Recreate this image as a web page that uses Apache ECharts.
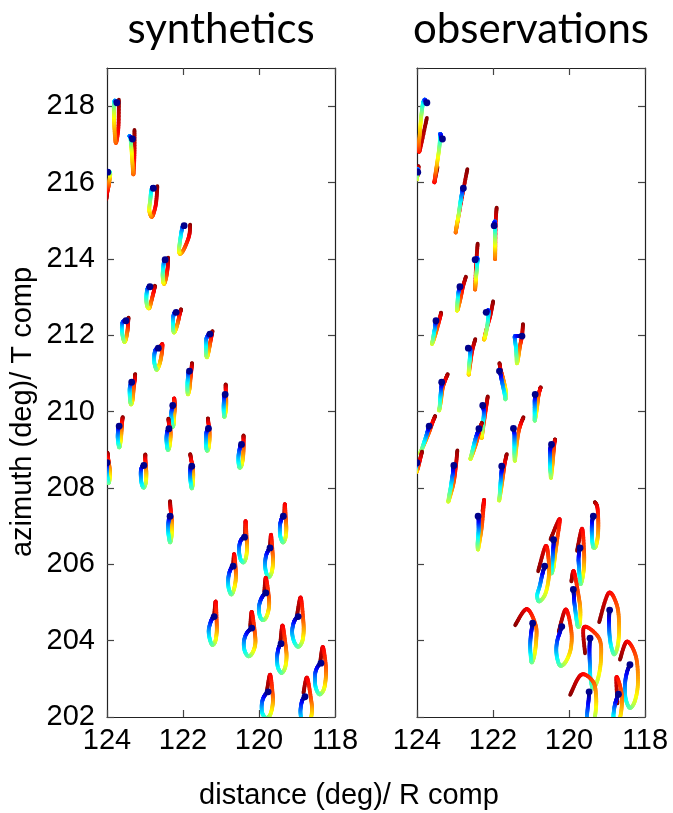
<!DOCTYPE html>
<html><head><meta charset="utf-8">
<script src="https://cdn.jsdelivr.net/npm/echarts@6/dist/echarts.min.js"></script>
<style>html,body{margin:0;padding:0;background:#fff}#c{width:673px;height:813px}</style>
</head><body><div id="c"></div>
<script>
// ---------------- data ----------------
const panelTitles = ['synthetics', 'observations'];
const distTicks = [118, 120, 122, 124];
const azTicks = [202, 204, 206, 208, 210, 212, 214, 216, 218];
const azMax = 219;
const xName = 'distance (deg)/ R comp';
const yName = 'azimuth (deg)/ T comp';

// station positions (distance deg, azimuth deg)
const stationDist = [123.74,123.33,123.98,122.78,121.97,122.47,122.87,123.50,122.18,121.29,
  122.65,121.83,123.35,122.27,120.89,123.68,122.37,121.33,120.46,124.00,
  123.03,121.77,122.34,120.38,120.68,121.18,119.36,119.71,119.82,118.97,
  120.19,119.42,118.37,119.76,118.79];
const stationAz = [218.09,217.14,216.27,215.85,214.87,213.98,213.27,212.38,212.60,212.03,
  211.66,211.06,210.77,210.16,210.45,209.62,209.55,209.56,209.14,208.66,
  208.59,208.57,207.26,206.71,205.95,204.63,207.26,206.43,205.25,204.63,
  204.33,203.92,203.41,202.66,202.53];

// particle motion, 11 samples evenly spaced in time: [R, T, R, T, ...] (amplitude units)
const synthMotion = [
 [0,0,-0.5,0.5,-1,1,-2,2,-2.5,1,-3,-3,-3,-11,-2.5,-25,-1,-40,1.5,-25,2,3],
 [0,0,-1,1,-2,2,-3,3,-2,1,-1.5,-4,-1,-10,0,-24,1,-35,2,-14,2,9],
 [0,0,0.3,0.2,0.6,0.4,1,0.5,1.5,0.5,2,0,2.5,-2,2,-6,1,-13,-0.5,-20,-1.5,-27],
 [0,0,-0.5,0.5,-1,1,-1.5,0,-2.5,-5,-3,-11,-4,-19,-3.5,-25,-1,-28,2.5,-16,4,2],
 [0,0,-0.5,0,-1.5,-1,-2.5,-5,-3.5,-11,-4.5,-18,-5,-24,-4,-28,0,-23,5,-10,6,1],
 [0,0,-0.5,0,-1,-1,-1.5,-4,-2,-9,-2.5,-15,-2,-21,-1,-24,1,-18,2.5,-8,3,2],
 [0,0,-1,0,-2,-1,-3,-4,-3.5,-9,-3.5,-15,-2.5,-20,-0.5,-21,1.5,-14,4,-4,5,1],
 [0,0,-1,0,-3,-1,-4,-4,-4,-10,-3,-17,-1.5,-21,0,-18,1.5,-10,2,-3,2.5,3],
 [0,0,-1,0,-2,-1,-3,-5,-3,-11,-3,-17,-2,-20,0,-16,2,-9,3.5,-2,5,3],
 [0,0,-1,0,-2.5,-2,-4,-6,-4,-12,-4,-19,-3,-23,-1.5,-18,0,-10,1.5,-2,2.5,3],
 [0,0,-1,0,-3,-2,-4,-7,-4,-14,-2.5,-20,-1,-21,1.5,-15,3.5,-5,4,4,1,-1],
 [0,0,-0.5,-0.5,-1,-2,-1.5,-6,-2,-12,-2,-19,-1.5,-23,0,-18,1,-8,2,2,2.5,8],
 [0,0,-0.5,0,-1,-2,-2,-6,-2,-12,-1.5,-19,-0.5,-22,1,-17,2,-6,3,2,3.5,8],
 [0,0,-0.5,-1,-1,-4,-1.5,-9,-1,-15,0,-21,1,-18,1.5,-10,2,-2,1.5,7,2,0],
 [0,0,-0.5,-1,-1,-4,-1.5,-10,-1.5,-16,-1,-22,0,-20,1,-12,1,-3,0.5,5,0.5,10],
 [0,0,-0.5,-1,-1,-4,-1.5,-10,-1,-16,0,-21,1,-18,2,-10,2.5,-2,3,4,3.5,9],
 [0,0,-1,-1,-2,-4,-2.5,-10,-2,-17,-1,-21,0.5,-18,1.5,-10,1.5,-2,0,5,-0.5,10],
 [0,0,-1,-1,-2,-4,-2.5,-10,-2.5,-17,-1.5,-22,0,-20,1,-12,1,-3,0,5,-0.5,10],
 [0,0,-1,-1,-2,-5,-3,-11,-3,-18,-2,-23,0,-21,1.5,-13,2,-4,2,4,2,9],
 [0,0,0,-1,0,-4,0,-9,0.5,-15,1.5,-20,2.5,-17,3,-9,2,-1,1,5,0.5,10],
 [0,0,-1.5,-1,-3,-5,-3,-12,-2,-19,0,-22,2,-17,2.5,-8,2,-1,1.5,6,1.5,11],
 [0,0,-1,-1,-1.5,-5,-1.5,-11,-1,-17,0,-22,1,-18,1.5,-9,1,-1,-0.5,6,-1.5,12],
 [0,0,-1,-1,-1.5,-5,-2,-11,-1.5,-19,0,-26,1.5,-20,2,-10,1.5,-2,0.5,7,0,15],
 [0,0,-3,-2,-5,-7,-5.5,-14,-4,-22,-1,-25,1.5,-20,2.5,-10,2,0,1,16,0.5,0],
 [0,0,-2,-2,-4,-7,-5,-14,-4.5,-22,-2,-28,0.5,-24,2.5,-14,2.5,-3,1,12,0,1],
 [0,0,-2,-2,-4,-7,-5.5,-14,-4.5,-22,-2,-28,1,-25,2.5,-16,2.5,-5,1.5,15,0,1],
 [0,0,-1.5,-2,-3,-7,-3.5,-13,-3,-20,-0.5,-26,2,-22,3,-13,2.5,-3,1.5,12,1,0],
 [0,0,-2,-3,-4,-8,-5,-16,-4,-24,-1.5,-29,1.5,-25,3,-15,2.5,-4,1,13,0,1],
 [0,0,-3,-3,-5.5,-8,-7,-15,-6,-23,-3,-27,0.5,-24,3,-15,3,-4,0,15,-1.5,1],
 [0,0,-3,-3,-5,-8,-6,-16,-4,-25,0,-30,4,-25,5.5,-15,5,-2,2.5,19,-1,2],
 [0,0,-3.5,-3,-6.5,-8,-8,-15,-7,-23,-3.5,-28,0.5,-25,3.5,-16,3,-4,0,16,-1.5,2],
 [0,0,-2,-3,-3.5,-9,-4,-16,-3,-24,0.5,-29,4,-24,5.5,-13,4.5,-1,1.5,18,-0.5,3],
 [0,0,-3,-3,-5.5,-9,-6,-17,-5,-25,-1.5,-31,2.5,-27,4.5,-18,5,-4,2,16,-0.5,3],
 [0,0,-3,-3,-5.5,-8,-6.5,-15,-5.5,-22,-2,-26,2,-23,4.5,-13,4.5,-2,2,17,-1,2],
 [0,0,-2.5,-3,-4,-9,-4.5,-16,-3,-24,1,-27,5,-24,7,-14,6,-2,2,19,-1.5,4]
];
const obsMotion = [
 [0,0,-1,1,-2,3,-3,2,-4,-1,-5,-8,-6,-17,-7,-30,-8,-43,-7,-47,0,-15],
 [0,0,-1,2,-2,5,-2.5,4,-2.5,0,-3,-7,-4,-15,-5.5,-25,-7,-35,-8,-43,-5,-28],
 [0,0,0,1,0,2,0,3,-0.5,1,-1,-3,-1,-7,-0.7,-5,0,-2,0.5,3,0.7,6],
 [0,0,-0.5,-1,-1,-3,-2,-8,-3,-14,-4,-21,-5,-28,-6.5,-36,-7.5,-43,-2,-12,4,19],
 [0,0,0.3,2,0.5,4,0.8,3,1,-3,1,-9,1,-17,1,-25,1,-32,1.5,2,2.5,18],
 [0,0,1,1,2,1.5,2.5,0,2,-5,1.5,-11,1,-17,0.5,-23,0,-29,1,-5,2.5,16],
 [0,0,-0.5,-1,-1,-3,-1.5,-6,-2,-10,-2.5,-16,-3,-23,-2,-22,0.5,-12,3,0,6,10],
 [0,0,0,-1,-0.5,-3,-1,-7,-2,-12,-3,-18,-4,-23,-2,-18,1,-8,4,3,5,8],
 [0,0,1,1,2,2,2.5,0,2,-6,1,-14,-0.5,-22,-2,-27,0,-18,4,-4,7,11],
 [2,-2,-1,-2,-5,-2,-5,-6,-4,-14,-3.5,-22,-3,-29,-1.5,-22,0,-12,2,-2,3,10],
 [0,0,1,0,2,-1,2,-5,1.5,-10,1,-16,0.5,-22,0.5,-26,2,-15,4,-2,7,9],
 [0,0,1,-3,2,-8,3.5,-15,5,-22,6,-28,6.5,-21,5,-13,3,-5,1,2,0,8],
 [0,0,0,-2,-0.5,-6,-1,-11,-1.5,-17,-2,-24,-2.5,-28,-1,-20,1,-6,3.5,2,6,8],
 [0,0,0.5,-2,1,-5,1,-10,0.5,-15,0,-21,-0.5,-27,-1,-32,1,-18,3.5,-1,5,9],
 [0,0,0,-2,-0.5,-6,-0.5,-12,-0.5,-19,-0.5,-26,0.5,-22,2,-12,3,-3,4.5,4,5.5,7],
 [0,0,-0.5,-2,-1.5,-5,-3,-10,-5,-16,-7,-22,-9,-27,-5,-18,0,-6,3.5,4,6,10],
 [0,0,-1,-3,-2.5,-7,-4,-12,-5.5,-18,-7,-24,-8.5,-30,-6,-24,-2,-12,1,0,3,6],
 [-5,0,-4.5,-2,-4,-6,-4,-12,-4,-19,-4,-26,-3.5,-32,-2,-18,0,-4,2.5,5,5,11],
 [0,0,-1,-3,-1.5,-8,-1.5,-15,-1.5,-22,-1,-28,-0.5,-33,1,-20,2,-8,3,2,3.5,5],
 [0,0,-0.3,-1,-0.5,-2,-0.7,-3,-1,-4,-1,-5,-1,-7,-0.5,-9,1,-5,3,3,5,11],
 [0,0,-0.5,-3,-1,-8,-2,-14,-3,-21,-4.5,-29,-5.5,-36,-3,-28,0,-16,2,-1,3.5,15],
 [0,0,0,-3,-0.5,-8,-1,-14,-1.5,-21,-2,-28,-2.5,-34,-0.5,-22,1.5,-8,3,3,5,12],
 [-2,0,-1.5,-3,-1.5,-8,-1.5,-14,-2,-21,-2.5,-28,-2,-33,0,-22,2,-8,4,16,2.5,5],
 [-1,-2.5,-1,-7,-1.5,-14,-2,-22,-2.5,-30,-3,-36,-1,-30,0.5,-18,2.5,-3,5,18,-4,-2],
 [1.5,0,0,-5,-1.5,-11,-3.5,-20,-6,-29,-4,-35,2,-28,5.5,-12,5.5,6,2.5,20,-5,-5],
 [8.5,-6.5,7.5,-12.5,6.5,-20.5,6,-29.5,6.5,-38.5,7.5,-45.5,10,-39.5,12,-24.5,11.5,-8.5,2.5,7.5,-9,-8.5],
 [0,0,-1,-4,-1.5,-10,-1.5,-17,-1,-25,0,-31,2.5,-30,4.5,-20,5,-6,4,9,1.5,14],
 [0,0,-1,-5,-1.5,-12,-1,-20,-0.5,-28,0.5,-36,2.5,-30,4,-18,4,-3,2,19,-3,-3],
 [-2.5,3.5,-2,-2.5,-1.5,-9.5,-0.5,-17.5,0.5,-25.5,2,-33.5,4,-30.5,4.5,-16.5,2.5,-1.5,-2,21.5,-4.5,11.5],
 [1.5,6.5,1,-0.5,1,-9.5,1.5,-19.5,3,-29.5,6,-37.5,9.5,-29.5,11,-11.5,9,10.5,0.5,23.5,-9,-5.5],
 [0,1.5,-2,-4.5,-4.5,-12.5,-5.5,-21.5,-4.5,-30.5,-1.5,-37.5,4,-33.5,9,-20.5,9.5,-2.5,4,18.5,-3,-3.5],
 [-1,5.5,-1.5,-2.5,-1.5,-12.5,-1,-23.5,-0.5,-34.5,2,-44.5,7,-34.5,10,-14.5,8,5.5,-7,16.5,-6,-9.5],
 [-1,-1.5,-3.5,-7.5,-5.5,-16.5,-6,-26.5,-5,-36.5,-1,-44.5,4,-37.5,7,-19.5,5,6.5,-4,21.5,-11,3.5],
 [11,0,10.5,-8,9.5,-17,9,-26,11,-33,15,-31,17.5,-20,18,-5,15,10,3,17,-8,-3],
 [3.5,2.5,1.5,-2.5,0,-7.5,-1,-13.5,-1.5,-19.5,-0.5,-25.5,3.5,-25.5,6.5,-12.5,6.5,4.5,1.5,19.5,2.5,-6.5]
];
// display scale: degrees of plot per amplitude unit
const AMP_DEG = 1 / 38;

// ---------------- chart ----------------
const FONT = '"Liberation Sans", Arial, Helvetica, sans-serif';
function jet(t) {
  const c = v => Math.max(0, Math.min(1, v));
  const r = c(Math.min(4 * t - 1.5, -4 * t + 4.5));
  const g = c(Math.min(4 * t - 0.5, -4 * t + 3.5));
  const b = c(Math.min(4 * t + 0.5, -4 * t + 2.5));
  return 'rgb(' + Math.round(r * 255) + ',' + Math.round(g * 255) + ',' + Math.round(b * 255) + ')';
}
function makeRender(motion) {
  return function (params, api) {
    const d = api.value(0), az = api.value(1), idx = api.value(2);
    const m = motion[idx];
    const n = m.length / 2;
    const P = [];
    for (let i = 0; i < n; i++) P.push(api.coord([d - m[2 * i] * AMP_DEG, az + m[2 * i + 1] * AMP_DEG]));
    const SUB = 10, pts = [];
    for (let i = 0; i < n - 1; i++) {
      const p0 = P[Math.max(i - 1, 0)], p1 = P[i], p2 = P[i + 1], p3 = P[Math.min(i + 2, n - 1)];
      for (let s = 0; s < SUB; s++) {
        const u = s / SUB, u2 = u * u, u3 = u2 * u;
        const cr = k => 0.5 * (2 * p1[k] + (-p0[k] + p2[k]) * u + (2 * p0[k] - 5 * p1[k] + 4 * p2[k] - p3[k]) * u2 + (-p0[k] + 3 * p1[k] - 3 * p2[k] + p3[k]) * u3);
        pts.push([cr(0), cr(1), (i + u) / (n - 1)]);
      }
    }
    pts.push([P[n - 1][0], P[n - 1][1], 1]);
    const children = [];
    for (let k = pts.length - 2; k >= 0; k--) {
      const a = pts[k], b = pts[k + 1];
      children.push({ type: 'line', silent: true,
        shape: { x1: a[0], y1: a[1], x2: b[0], y2: b[1] },
        style: { stroke: jet((a[2] + b[2]) / 2), lineWidth: 3.8, lineCap: 'round' } });
    }
    children.push({ type: 'circle', silent: true, shape: { cx: P[0][0], cy: P[0][1], r: 3.4 }, style: { fill: '#00008c' } });
    return { type: 'group', children: children };
  };
}
const lineStyle = { color: '#222', width: 1.2 };
const tickStyle = { color: '#444', width: 1.2 };
const labelStyle = { fontSize: 29, color: '#000', fontFamily: FONT };
function xAx(grid, pos, showLabel) {
  return { type: 'value', gridIndex: grid, position: pos, inverse: true,
    min: distTicks[0], max: distTicks[distTicks.length - 1], interval: distTicks[1] - distTicks[0],
    axisLine: { show: true, onZero: false, lineStyle: lineStyle },
    axisTick: { show: true, inside: true, length: 7, lineStyle: tickStyle },
    axisLabel: Object.assign({ show: showLabel, margin: 9 }, labelStyle),
    splitLine: { show: false } };
}
function yAx(grid, pos, showLabel) {
  return { type: 'value', gridIndex: grid, position: pos,
    min: azTicks[0], max: azMax, interval: azTicks[1] - azTicks[0],
    axisLine: { show: true, onZero: false, lineStyle: lineStyle },
    axisTick: { show: true, inside: true, length: 7, lineStyle: tickStyle },
    axisLabel: Object.assign({ show: showLabel, margin: 12, showMaxLabel: false }, labelStyle),
    splitLine: { show: false } };
}
const stationData = stationDist.map((d, i) => [d, stationAz[i], i]);
const chart = echarts.init(document.getElementById('c'), null, { renderer: 'canvas' });
chart.setOption({
  animation: false,
  backgroundColor: '#fff',
  grid: [
    { left: 107, top: 68, width: 228, height: 649 },
    { left: 417, top: 68, width: 228, height: 649 }
  ],
  xAxis: [xAx(0, 'bottom', true), xAx(0, 'top', false), xAx(1, 'bottom', true), xAx(1, 'top', false)],
  yAxis: [yAx(0, 'left', true), yAx(0, 'right', false), yAx(1, 'left', false), yAx(1, 'right', false)],
  series: [
    { type: 'custom', xAxisIndex: 0, yAxisIndex: 0, clip: true, encode: { x: 0, y: 1 },
      renderItem: makeRender(synthMotion), data: stationData, z: 3 },
    { type: 'custom', xAxisIndex: 2, yAxisIndex: 2, clip: true, encode: { x: 0, y: 1 },
      renderItem: makeRender(obsMotion), data: stationData, z: 3 }
  ],
  graphic: [
    { type: 'text', x: 221, y: 29, style: { text: panelTitles[0], font: '42px Lato, "Open Sans", sans-serif', fill: '#000', align: 'center', verticalAlign: 'middle' } },
    { type: 'text', x: 531, y: 29, style: { text: panelTitles[1], font: '42px Lato, "Open Sans", sans-serif', fill: '#000', align: 'center', verticalAlign: 'middle' } },
    { type: 'text', x: 23, y: 412, rotation: Math.PI / 2, style: { text: yName, font: '29px ' + FONT, fill: '#000', align: 'center', verticalAlign: 'middle' } },
    { type: 'text', x: 349, y: 796, style: { text: xName, font: '29px ' + FONT, fill: '#000', align: 'center', verticalAlign: 'middle' } }
  ]
});
</script></body></html>
